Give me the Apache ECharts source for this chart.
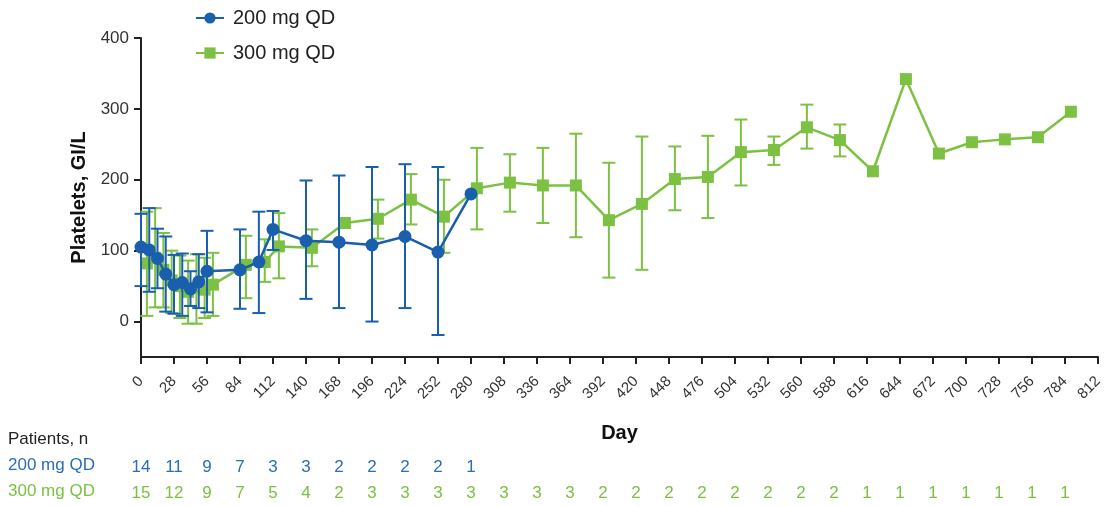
<!DOCTYPE html>
<html><head><meta charset="utf-8">
<script src="https://cdn.jsdelivr.net/npm/echarts@6/dist/echarts.min.js"></script>
<style>html,body{margin:0;padding:0;background:#fff}#c{width:1107px;height:506px}</style>
</head><body><div id="c"></div>
<script>
// ---- data ----
const days200 = [0,7,14,21,28,35,42,49,56,84,100,112,140,168,196,224,252,280];
const mean200 = [105,101,89,67,52,55,46,56,71,73,84,130,114,112,108,120,98,180];
const low200  = [50,42,47,14,11,8,22,19,13,18,12,101,32,19,0,19,-19,null];
const high200 = [152,160,131,120,94,96,71,95,128,130,155,156,199,206,218,222,218,null];

const days300 = [5,12,19,26,33,40,47,54,61,89,105,117,145,173,201,229,257,285,313,341,369,397,425,453,481,509,537,565,593,621,649,677,705,733,761,789];
const mean300 = [82,90,73,58,50,42,48,45,52,80,84,106,104,139,145,172,148,188,196,192,192,143,166,201,204,239,242,274,256,212,342,237,253,257,260,296];
const low300  = [8,20,20,12,5,-3,-3,5,8,33,56,61,78,null,117,137,97,130,155,139,119,62,73,157,146,192,221,244,233,null,null,null,null,null,null,null];
const high300 = [155,160,125,100,93,86,95,90,97,121,116,153,130,null,172,208,200,245,236,245,265,224,261,247,262,285,261,306,278,null,null,null,null,null,null,null];

const yTicks = [0,100,200,300,400];
const xTickStep = 28;
const n200 = [14,11,9,7,3,3,2,2,2,2,1];
const n300 = [15,12,9,7,5,4,2,3,3,3,3,3,3,3,2,2,2,2,2,2,2,2,1,1,1,1,1,1,1];

const BLUE = '#1a5eae';
const BLUE_T = '#2c6cb9';
const GREEN = '#7cc142';
const FONT = 'Liberation Sans, Arial, sans-serif';

function errData(d, lo, hi){
  const out = [];
  for (let i=0;i<d.length;i++) if (lo[i]!=null && hi[i]!=null) out.push([d[i], lo[i], hi[i]]);
  return out;
}
function errRender(color){
  return function(params, api){
    const x = api.value(0);
    const a = api.coord([x, api.value(1)]);
    const b = api.coord([x, api.value(2)]);
    const w = 6.5;
    const st = {stroke: color, lineWidth: 2};
    return {type:'group', children:[
      {type:'line', shape:{x1:a[0], y1:a[1], x2:b[0], y2:b[1]}, style:st},
      {type:'line', shape:{x1:a[0]-w, y1:a[1], x2:a[0]+w, y2:a[1]}, style:st},
      {type:'line', shape:{x1:b[0]-w, y1:b[1], x2:b[0]+w, y2:b[1]}, style:st}
    ]};
  };
}
function pairs(d, v){ return d.map((x,i)=>[x, v[i]]); }

const chart = echarts.init(document.getElementById('c'), null, {renderer:'canvas'});
const baseX = {type:'value', min:0, max:812, interval:xTickStep, gridIndex:0, splitLine:{show:false}};
chart.setOption({
  animation:false,
  textStyle:{fontFamily:FONT},
  grid:{left:141, right:9, top:38, bottom:149},
  legend:{
    orient:'vertical', left:190, top:3, itemGap:15, itemWidth:28, itemHeight:14,
    textStyle:{fontSize:20, color:'#222', fontFamily:FONT, padding:[0,0,0,4]},
    data:['200 mg QD','300 mg QD']
  },
  xAxis:[
    Object.assign({}, baseX, {
      position:'bottom',
      name:'Day', nameLocation:'middle', nameGap:66,
      nameTextStyle:{fontSize:20, fontWeight:'bold', color:'#111'},
      axisLine:{onZero:false, lineStyle:{color:'#222', width:2}},
      axisTick:{length:7, lineStyle:{color:'#222', width:2}},
      axisLabel:{rotate:45, fontSize:15, color:'#333', margin:22}
    }),
    Object.assign({}, baseX, {
      position:'bottom', offset:96,
      axisLine:{show:false, onZero:false}, axisTick:{show:false},
      axisLabel:{fontSize:17, color:BLUE_T, margin:6, formatter:function(v){const k=Math.round(v/xTickStep); return n200[k]!=null?String(n200[k]):'';}}
    }),
    Object.assign({}, baseX, {
      position:'bottom', offset:122,
      axisLine:{show:false, onZero:false}, axisTick:{show:false},
      axisLabel:{fontSize:17, color:GREEN, margin:6, formatter:function(v){const k=Math.round(v/xTickStep); return n300[k]!=null?String(n300[k]):'';}}
    })
  ],
  yAxis:{
    type:'value', min:-50, max:400,
    name:'Platelets, GI/L', nameLocation:'middle', nameGap:47, nameRotate:90,
    nameTextStyle:{fontSize:20, fontWeight:'bold', color:'#111'},
    splitLine:{show:false},
    axisLine:{show:true, onZero:false, lineStyle:{color:'#222', width:2}},
    axisTick:{show:true, length:7, lineStyle:{color:'#222', width:2}, customValues:yTicks},
    axisLabel:{fontSize:17, color:'#333', margin:12, customValues:yTicks}
  },
  series:[
    {type:'custom', name:'err300', xAxisIndex:0, renderItem:errRender(GREEN), data:errData(days300, low300, high300), z:1, silent:true},
    {type:'line', name:'300 mg QD', xAxisIndex:0, data:pairs(days300, mean300), symbol:'rect', symbolSize:12,
      lineStyle:{color:GREEN, width:2.5}, itemStyle:{color:GREEN}, z:2},
    {type:'custom', name:'err200', xAxisIndex:0, renderItem:errRender(BLUE), data:errData(days200, low200, high200), z:3, silent:true},
    {type:'line', name:'200 mg QD', xAxisIndex:0, data:pairs(days200, mean200), symbol:'circle', symbolSize:13,
      lineStyle:{color:BLUE, width:2.5}, itemStyle:{color:BLUE}, z:4}
  ],
  graphic:[
    {type:'text', left:8, top:431, style:{text:'Patients, n', fontSize:17, fill:'#222', fontFamily:FONT}},
    {type:'text', left:8, top:457, style:{text:'200 mg QD', fontSize:17, fill:BLUE_T, fontFamily:FONT}},
    {type:'text', left:8, top:483, style:{text:'300 mg QD', fontSize:17, fill:GREEN, fontFamily:FONT}}
  ]
});
</script></body></html>
